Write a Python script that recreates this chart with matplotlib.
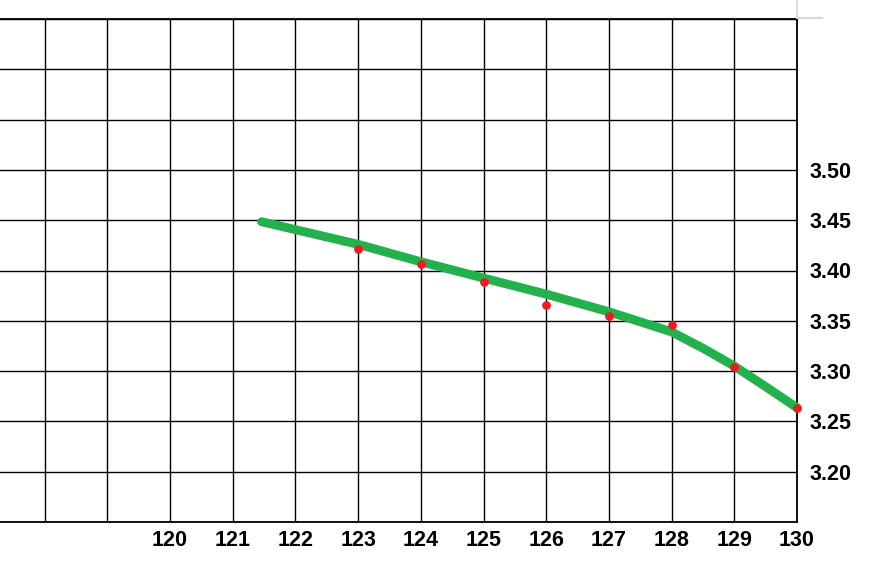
import matplotlib.pyplot as plt
import matplotlib.lines as mlines
import numpy as np

## values
curve_x = [121.46, 123, 124, 125, 126, 127, 128, 128.5, 129, 129.5, 130]
curve_y = [3.4485, 3.426, 3.4087, 3.3925, 3.3765, 3.359, 3.339, 3.3227, 3.305, 3.2845, 3.2636]

pts_x = [123, 124, 125, 126, 127, 128, 129, 130]
pts_y = [3.421, 3.406, 3.389, 3.366, 3.355, 3.346, 3.304, 3.263]

x_grid = list(range(118, 131))
x_labels = ['', ''] + [str(v) for v in range(120, 131)]
y_grid = [3.15, 3.20, 3.25, 3.30, 3.35, 3.40, 3.45, 3.50, 3.55, 3.60, 3.65]
y_labels = ['', '3.20', '3.25', '3.30', '3.35', '3.40', '3.45', '3.50', '', '', '']

plt.rcParams['font.family'] = ['Liberation Sans', 'DejaVu Sans']

W, H = 889, 585
fig = plt.figure(figsize=(W/100., H/100.), dpi=100)
fig.patch.set_facecolor('white')

## axes box in pixels: left 0, right 797, top 19, bottom 522
ax = fig.add_axes([0, (H-522.)/H, 797./W, 503./H])
ax.set_xlim(120 - 170/62.7, 130)
ax.set_ylim(3.15, 3.65)

ax.set_xticks(x_grid)
ax.set_xticklabels(x_labels)
ax.set_yticks(y_grid)
ax.set_yticklabels(y_labels)
ax.yaxis.tick_right()
ax.tick_params(axis='both', length=0, labelsize=15.5)
ax.tick_params(axis='x', pad=6)
ax.tick_params(axis='y', pad=9)
for lab in ax.get_xticklabels() + ax.get_yticklabels():
    lab.set_fontweight('bold')

ax.grid(True, color='black', linewidth=1.0)
ax.set_axisbelow(True)
ax.spines['left'].set_visible(False)
for s in ['top', 'right', 'bottom']:
    ax.spines[s].set_linewidth(1.3)
    ax.spines[s].set_color('black')

ax.plot(curve_x, curve_y, color='#22b14c', linewidth=6.4,
        solid_capstyle='round', solid_joinstyle='round', zorder=3, clip_on=False)
ax.plot(pts_x, pts_y, 'o', color='#ed1c24', markersize=6.3,
        markeredgewidth=0, zorder=4, clip_on=False)

## faint grey edge in the top right corner
fig.add_artist(mlines.Line2D([797./W, 797./W], [1, (H-18.)/H], color='#d8d8d8', linewidth=1.2))
fig.add_artist(mlines.Line2D([797./W, 822./W], [(H-18.)/H, (H-18.)/H], color='#d8d8d8', linewidth=1.5))

plt.savefig('out.png', dpi=100)
